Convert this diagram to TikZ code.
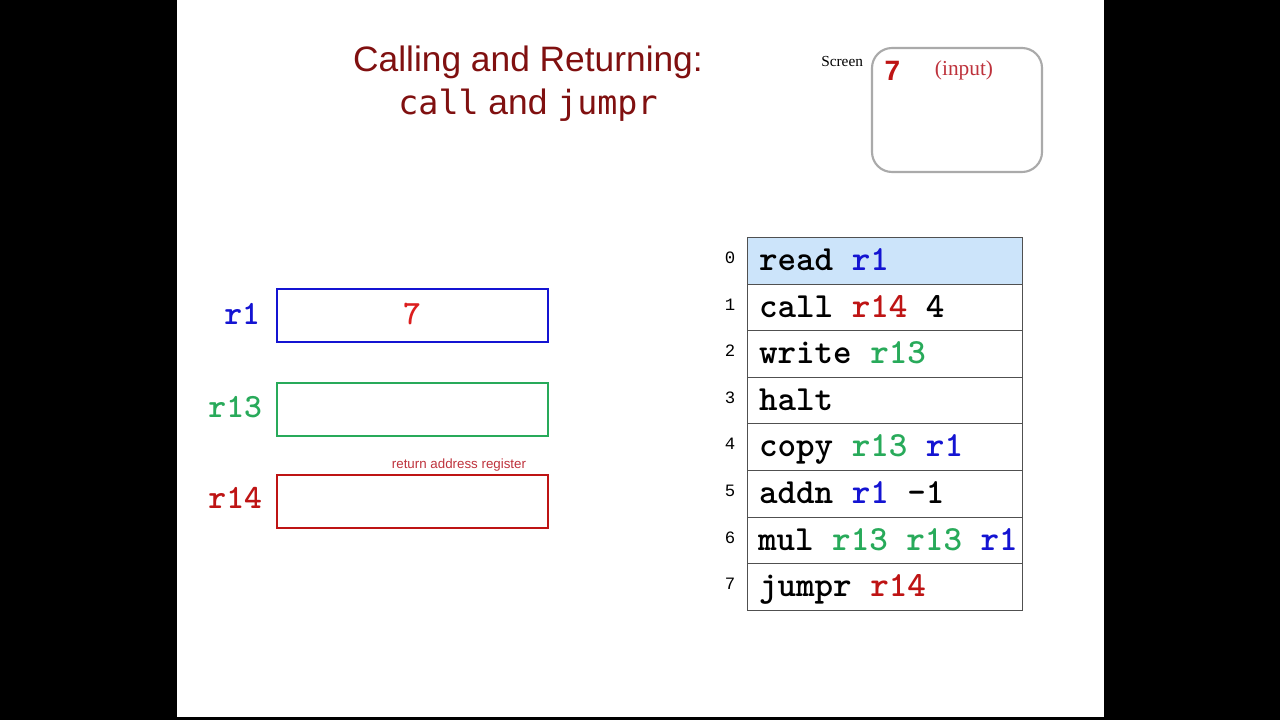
\documentclass[tikz,border=0pt]{standalone}
\usepackage{fontspec}
\setmainfont{Liberation Sans}
\newfontfamily\seriffont{Liberation Serif}
\newfontfamily\cmono{lmmonolt10-bold}[Extension=.otf]
\newfontfamily\nmono{Liberation Mono}
\newfontfamily\dmono{DejaVu Sans Mono}
\definecolor{titlered}{RGB}{128,16,16}
\definecolor{regblue}{RGB}{20,20,210}
\definecolor{reggreen}{RGB}{40,170,90}
\definecolor{regred}{RGB}{190,20,20}
\definecolor{valred}{RGB}{220,30,30}
\definecolor{notered}{RGB}{190,50,60}
\definecolor{rowfill}{RGB}{204,228,250}
\definecolor{rowline}{RGB}{80,80,80}
\definecolor{screengray}{RGB}{170,170,170}
\begin{document}
\begin{tikzpicture}[x=0.75pt,y=-0.75pt,
  every node/.style={inner sep=0pt,outer sep=0pt},
  regbox/.style={draw,line width=1.5pt,minimum width=203.25pt,minimum height=39.75pt},
  rowbox/.style={draw=rowline,line width=0.75pt,minimum width=206.25pt,minimum height=34.95pt},
  codefont/.style={font=\cmono\fontsize{25.5}{30}\selectfont},
  code/.style={anchor=base west,font=\cmono\fontsize{26.5}{31}\selectfont},
  reglabel/.style={anchor=base east,codefont},
  rownum/.style={anchor=base,font=\nmono\fontsize{13}{15}\selectfont},
  titletext/.style={anchor=base,text=titlered,font=\fontsize{26.5}{31}\selectfont}
]
\useasboundingbox (0,0) rectangle (1280,720);
\fill[black] (0,0) rectangle (1280,720);
\fill[white] (177,0) rectangle (1104,717);

% title
\node[titletext] (t1) at (528,72) {Calling and Returning:};
\node[titletext] (t2) at (528,115) {{\dmono\fontsize{25}{30}\selectfont call} and {\dmono\fontsize{25}{30}\selectfont jumpr}};

% screen
\node[draw=screengray,line width=1.6pt,rounded corners=15pt,minimum width=127.5pt,minimum height=93pt] (screen) at (957,110) {};
\node[anchor=base east,font=\seriffont\fontsize{11.5}{13}\selectfont] (screenlbl) at (863,67) {Screen};
\node[anchor=base,text=regred,font=\bfseries\fontsize{21}{24}\selectfont] (scr7) at (892.5,81) {7};
\node[anchor=base,text=notered,font=\seriffont\fontsize{16}{19}\selectfont] (scrin) at (964,76) {(input)};

% registers
\node[regbox,draw=regblue] (r1box) at (412.5,315.5) {};
\node[regbox,draw=reggreen] (r13box) at (412.5,409.5) {};
\node[regbox,draw=regred] (r14box) at (412.5,501.5) {};
\node[reglabel,text=regblue] (r1lbl) at (260,324) {r1};
\node[reglabel,text=reggreen] (r13lbl) at (262,417) {r13};
\node[reglabel,text=regred] (r14lbl) at (262,508) {r14};
\node[anchor=base,text=valred,codefont] (r1val) at (412,324) {7};
\node[anchor=base,text=notered,font=\fontsize{10}{12}\selectfont] (retnote) at (459,468) {return address register};

% program
\node[rowbox,fill=rowfill] (row0) at (884.5,260.8) {};
\foreach \i in {1,...,7}{
  \node[rowbox] (row\i) at (884.5,{260.8+46.6*\i}) {};
}
\foreach \i in {0,...,7}{
  \node[rownum] (num\i) at (730,{263.5+46.6*\i}) {\i};
}
\node[code] (c0) at (759,270.5) {read \textcolor{regblue}{r1}};
\node[code] (c1) at (759,317.1) {call \textcolor{regred}{r14} 4};
\node[code] (c2) at (759,363.7) {write \textcolor{reggreen}{r13}};
\node[code] (c3) at (759,410.3) {halt};
\node[code] (c4) at (759,456.9) {copy \textcolor{reggreen}{r13} \textcolor{regblue}{r1}};
\node[code] (c5) at (759,503.5) {addn \textcolor{regblue}{r1} -1};
\node[code] (c6) at (758,550.1) {mul \textcolor{reggreen}{r13 r13} \textcolor{regblue}{r1}};
\node[code] (c7) at (759,596.7) {jumpr \textcolor{regred}{r14}};
\end{tikzpicture}
\end{document}
